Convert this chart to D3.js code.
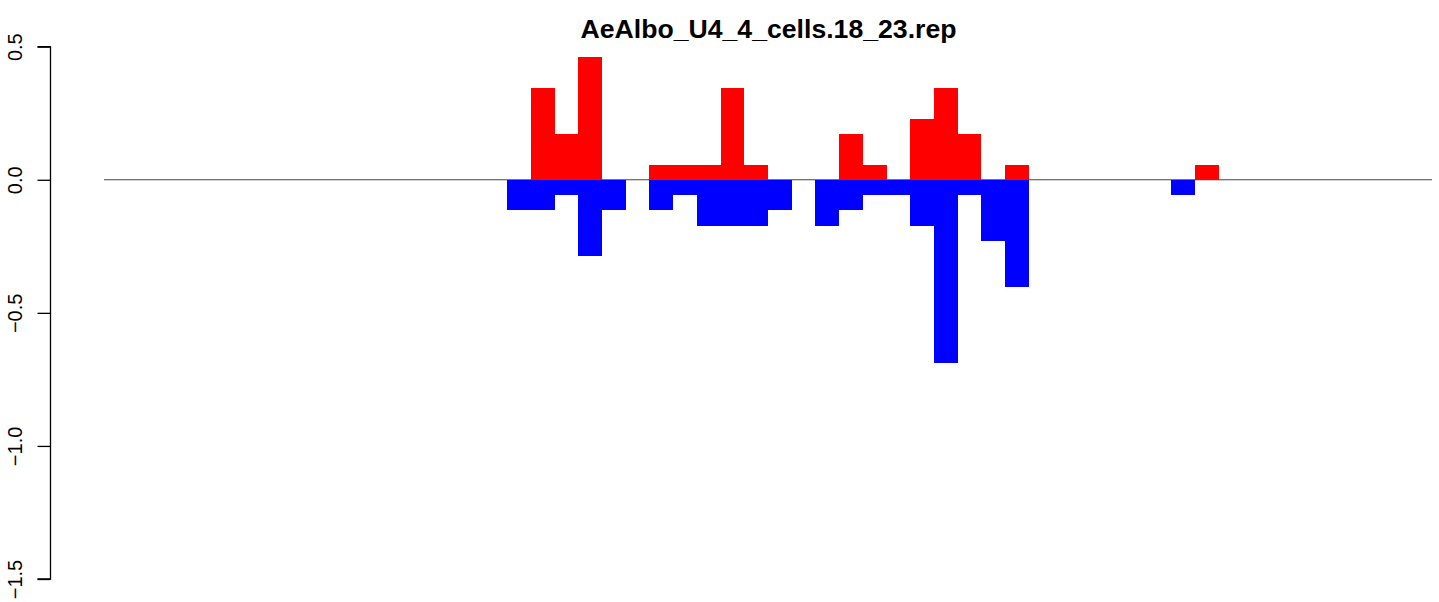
<!DOCTYPE html>
<html>
<head>
<meta charset="utf-8">
<script src="https://cdn.jsdelivr.net/npm/d3@7"></script>
<style>
  html, body { margin: 0; padding: 0; background: #fff; }
  svg { display: block; }
</style>
</head>
<body>
<svg id="chart" width="1439" height="602"></svg>
<script>
// ---- data ----
const title = "AeAlbo_U4_4_cells.18_23.rep";
const bins = d3.range(1, 57); // 56 bins
// positive (red) values, indexed by bin (0-based position)
const redBins   = [18, 19, 20, 23, 24, 25, 26, 27, 31, 32, 34, 35, 36, 38, 46];
const redValues = [0.345, 0.172, 0.460, 0.057, 0.057, 0.057, 0.345, 0.057, 0.172, 0.057, 0.230, 0.345, 0.172, 0.057, 0.057];
// negative (blue) values
const blueBins   = [17, 18, 19, 20, 21, 23, 24, 25, 26, 27, 28, 30, 31, 32, 33, 34, 35, 36, 37, 38, 45];
const blueValues = [-0.115, -0.115, -0.057, -0.287, -0.115, -0.115, -0.057, -0.172, -0.172, -0.172, -0.115, -0.172, -0.115, -0.057, -0.057, -0.172, -0.690, -0.057, -0.230, -0.402, -0.057];
const yTicks = [0.5, 0.0, -0.5, -1.0, -1.5];
const yTickLabels = ["0.5", "0.0", "\u22120.5", "\u22121.0", "\u22121.5"];

// ---- layout ----
const svg = d3.select("#chart");
const font = "'Liberation Sans', Arial, Helvetica, sans-serif";

const x = d3.scaleBand().domain(d3.range(0, 56)).range([104, 1432]).padding(0);
const y = d3.scaleLinear().domain([-1.5, 0.5]).range([579, 46.7]);

// baseline
svg.append("line")
  .attr("x1", x.range()[0]).attr("x2", x.range()[1])
  .attr("y1", y(0)).attr("y2", y(0))
  .attr("stroke", "#444").attr("stroke-width", 1);

// red bars
svg.append("g").selectAll("rect")
  .data(redBins.map((b, i) => ({ b, v: redValues[i] })))
  .join("rect")
  .attr("x", d => x(d.b))
  .attr("width", x.bandwidth())
  .attr("y", d => y(d.v))
  .attr("height", d => y(0) - y(d.v))
  .attr("fill", "#FF0000")
  .attr("shape-rendering", "crispEdges");

// blue bars
svg.append("g").selectAll("rect")
  .data(blueBins.map((b, i) => ({ b, v: blueValues[i] })))
  .join("rect")
  .attr("x", d => x(d.b))
  .attr("width", x.bandwidth())
  .attr("y", y(0))
  .attr("height", d => y(d.v) - y(0))
  .attr("fill", "#0000FF")
  .attr("shape-rendering", "crispEdges");

// y axis
const axis = d3.axisLeft(y)
  .tickValues(yTicks)
  .tickSize(13)
  .tickPadding(15)
  .tickFormat((d, i) => yTickLabels[i]);

const gAxis = svg.append("g")
  .attr("transform", "translate(50.5,0)")
  .call(axis);
gAxis.select(".domain")
  .attr("d", `M-13,${y(0.5)}H0V${y(-1.5)}H-13`)
  .attr("stroke", "#000").attr("stroke-width", 1.3);
gAxis.selectAll(".tick line").attr("stroke", "#000").attr("stroke-width", 1.3);
gAxis.selectAll(".tick text")
  .attr("font-family", font)
  .attr("font-size", 20)
  .attr("fill", "#000")
  .attr("text-anchor", "middle")
  .attr("x", 0).attr("dy", 0)
  .attr("transform", "translate(-28.5,0) rotate(-90)");

// title
svg.append("text")
  .attr("x", 768.5).attr("y", 38)
  .attr("text-anchor", "middle")
  .attr("font-family", font)
  .attr("font-weight", "bold")
  .attr("font-size", 25.5)
  .attr("textLength", 376)
  .attr("lengthAdjust", "spacingAndGlyphs")
  .attr("fill", "#000")
  .text(title);
</script>
</body>
</html>
